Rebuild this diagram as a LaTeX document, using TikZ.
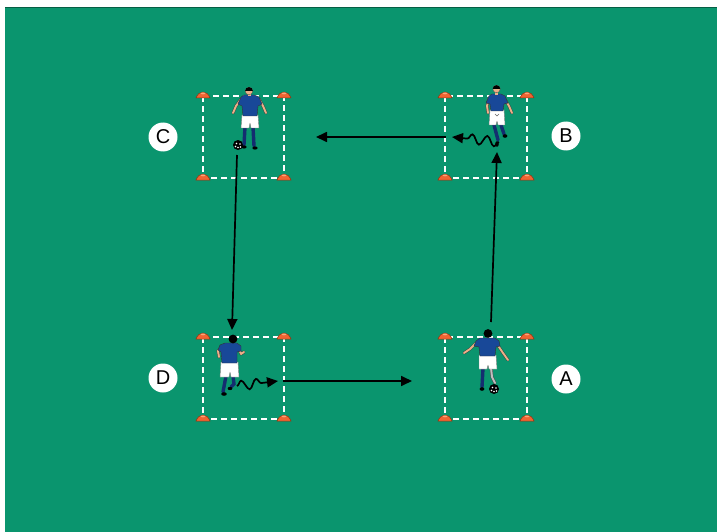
\documentclass[tikz,border=0pt]{standalone}
\usepackage{fontspec}
\setmainfont{Liberation Sans}
\usetikzlibrary{arrows.meta,decorations.pathmorphing}
\definecolor{pitch}{RGB}{10,149,110}
\definecolor{pitchedge}{RGB}{5,95,68}
\definecolor{conefill}{RGB}{240,100,50}
\definecolor{coneedge}{RGB}{150,50,15}
\definecolor{conelight}{RGB}{252,165,120}
\definecolor{shirtcol}{RGB}{24,72,152}
\definecolor{sockcol}{RGB}{20,45,112}
\definecolor{skincol}{RGB}{236,176,136}
\tikzset{
  sqline/.style={white, line width=2.9pt, dash pattern=on 6pt off 4pt},
  conemark/.pic={
    \filldraw[fill=conefill,draw=coneedge,line width=0.5pt]
      (-7,2) .. controls (-4,-6) and (4,-6) .. (7,2) -- cycle;
    \fill[conelight] (0,-2.6) ellipse (2.4 and 0.9);
  },
  conn/.style={draw=black, line width=1.7pt, -{Triangle[length=11pt,width=10pt]}},
  wavy/.style={conn, decorate, decoration={snake, segment length=15pt, amplitude=4.8pt, post length=10pt}},
  lab/.style={circle, fill=white, minimum size=29pt, inner sep=0pt, font=\fontsize{20}{20}\selectfont},
  armedge/.style={draw=black!75, line width=2.8pt, line cap=round, line join=round},
  skinarm/.style={draw=skincol, line width=1.9pt, line cap=round, line join=round},
  shirtfill/.style={fill=shirtcol, draw=black!80, line width=0.4pt, line join=round},
  shortsfill/.style={fill=white, draw=black!50, line width=0.4pt, line join=round},
  sock/.style={draw=sockcol, line width=3.4pt, line cap=round},
  headskin/.style={fill=skincol, draw=black!70, line width=0.3pt},
}
\begin{document}
\begin{tikzpicture}[x=1pt,y=-1pt]
\useasboundingbox (0,0) rectangle (717,532);
% background
\fill[white] (0,0) rectangle (717,532);
\fill[pitch] (5,7) rectangle (717,532);
\draw[pitchedge, line width=1pt] (5,7.5) -- (717,7.5);

% squares
\draw[sqline] (203,96) rectangle (284,178);
\draw[sqline] (445,96) rectangle (527,178);
\draw[sqline] (203,337) rectangle (284,419);
\draw[sqline] (445,337) rectangle (527,419);

% cones
\foreach \p in {(203,96),(284,96),(203,178),(284,178),
                (445,96),(527,96),(445,178),(527,178),
                (203,337),(284,337),(203,419),(284,419),
                (445,337),(527,337),(445,419),(527,419)}
  \pic at \p {conemark};

% labels
\node[lab] (lC) at (163,137) {C};
\node[lab] (lB) at (566,136) {B};
\node[lab] (lD) at (163,378) {D};
\node[lab] (lA) at (566,379) {A};

% connector end points
\coordinate (bcS) at (446,137);
\coordinate (bcE) at (316,137);
\coordinate (cdS) at (237,155);
\coordinate (cdE) at (232,330);
\coordinate (daS) at (283,381);
\coordinate (daE) at (412,381);
\coordinate (abS) at (491,322);
\coordinate (abE) at (497,152);
\coordinate (dwS) at (237,386);
\coordinate (dwE) at (278,381);
\coordinate (bwS) at (499,142);
\coordinate (bwE) at (452,137);

\draw[conn] (bcS) -- (bcE);
\draw[conn] (cdS) -- (cdE);
\draw[conn] (daS) -- (daE);
\draw[conn] (abS) -- (abE);
\draw[wavy] (dwS) -- (dwE);
\draw[wavy] (bwS) -- (bwE);

% ---------------- player C (front, ball at feet)
\draw[armedge] (241,99) -- (236,106) -- (233,113);
\draw[skinarm] (241,99) -- (236,106) -- (233,113);
\draw[armedge] (259,99) -- (263,106) -- (266,113);
\draw[skinarm] (259,99) -- (263,106) -- (266,113);
\draw[sock] (245,127) -- (244,145);
\draw[sock] (253,127) -- (254,146);
\fill (244,147) ellipse (2.6 and 1.6);
\fill (255,148) ellipse (2.6 and 1.6);
\filldraw[shortsfill] (242,115) -- (258,115) -- (259,128) -- (251,128) -- (250,123) -- (249,128) -- (241,128) -- cycle;
\filldraw[shirtfill] (244,95) -- (254,95) -- (259,97) -- (262,104) -- (258,106) -- (257,116) -- (243,116) -- (242,106) -- (238,104) -- (241,97) -- cycle;
\fill[skincol] (247.5,93.5) rectangle (250.5,96);
\filldraw[headskin] (249,91) circle (3.8);
\fill (245.1,91) arc[start angle=180,end angle=360,radius=3.9] -- cycle;
\fill[black] (238,145) circle (5);
\foreach \d in {(236.5,143.5),(240,144),(238,147.5),(235.5,146.5),(240.5,147)}
  \fill[white] \d circle (0.8);

% ---------------- player B (front, running)
\draw[armedge] (489,98) -- (487,106) -- (488,113);
\draw[skinarm] (489,98) -- (487,106) -- (488,113);
\draw[armedge] (504,98) -- (509,106) -- (512,113);
\draw[skinarm] (504,98) -- (509,106) -- (512,113);
\draw[sock] (494,125) -- (498,140);
\draw[sock] (501,125) -- (504,134);
\fill (497,144) ellipse (1.8 and 2.8);
\fill (505,136) ellipse (2.4 and 1.8);
\filldraw[shortsfill] (490,110) -- (504,110) -- (505,125) -- (498,125) -- (497,121) -- (496,125) -- (489,125) -- cycle;
\draw[black!60, line width=0.4pt] (495,114) -- (497,116) -- (499,114);
\filldraw[shirtfill] (492,94) -- (501,94) -- (505,96) -- (508,103) -- (504,104) -- (503,111) -- (491,111) -- (490,104) -- (486,103) -- (489,96) -- cycle;
\fill[skincol] (495,92.5) rectangle (498,95);
\filldraw[headskin] (496.5,89) circle (3.7);
\fill (492.7,89) arc[start angle=180,end angle=360,radius=3.8] -- cycle;

% ---------------- player A (back view, ball at feet)
\draw[armedge] (476,343) -- (470,349) -- (464,353);
\draw[skinarm] (476,343) -- (470,349) -- (464,353);
\draw[armedge] (497,344) -- (503,353) -- (508,360);
\draw[skinarm] (497,344) -- (503,353) -- (508,360);
\draw[sock] (483,368) -- (482,387);
\draw[draw=black!70, line width=3pt, line cap=round] (491,368) -- (492,377) -- (495,383);
\draw[draw=black!25, line width=2pt, line cap=round] (491,368) -- (492,377) -- (495,383);
\fill (482,389) ellipse (2.4 and 1.8);
\filldraw[shortsfill] (479,355) -- (496,355) -- (497,369) -- (489,369) -- (488,365) -- (487,369) -- (479,369) -- cycle;
\filldraw[shirtfill] (480,338) -- (495,338) -- (499,341) -- (500,346) -- (496,347) -- (495,356) -- (480,356) -- (479,347) -- (474,346) -- (476,341) -- cycle;
\fill (488,333.5) circle (4.4);
\fill[black] (494,389) circle (5);
\foreach \d in {(492.5,387.5),(496,388),(494,391.5),(491.5,390.5),(496.5,391)}
  \fill[white] \d circle (0.8);

% ---------------- player D (back view, running)
\draw[armedge] (222,346) -- (218,351) -- (219,357);
\draw[skinarm] (222,346) -- (218,351) -- (219,357);
\draw[armedge] (238,347) -- (241,354) -- (244,352);
\draw[skinarm] (238,347) -- (241,354) -- (244,352);
\draw[sock] (226,376) -- (223,392);
\draw[sock] (233,376) -- (234,384) -- (231,387);
\fill (224,394) ellipse (2.8 and 1.8);
\fill (230,388.5) ellipse (2.4 and 1.6);
\filldraw[shortsfill] (221,362) -- (238,362) -- (239,377) -- (231,377) -- (230,372) -- (229,377) -- (220,377) -- cycle;
\filldraw[shirtfill] (225,343) -- (237,343) -- (241,346) -- (241,351) -- (237,352) -- (237,363) -- (222,363) -- (221,352) -- (218,350) -- (220,345) -- cycle;
\fill (233,339) circle (4.4);
\end{tikzpicture}
\end{document}
